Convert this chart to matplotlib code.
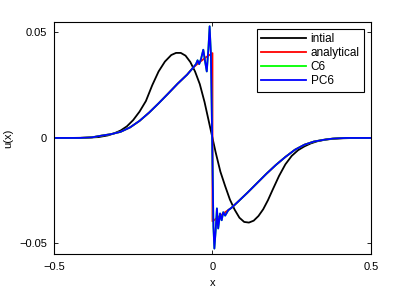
import matplotlib
matplotlib.use("Agg")
import matplotlib.pyplot as plt

plt.rcParams['font.family'] = ['Liberation Sans', 'DejaVu Sans']

# initial profile
x_init = [-0.5, -0.45, -0.40, -0.36, -0.33, -0.31, -0.29, -0.27, -0.25, -0.23,
          -0.21, -0.19, -0.17, -0.15, -0.13, -0.115, -0.10, -0.085, -0.07, -0.055,
          -0.04, -0.025, -0.01, 0.0, 0.01, 0.025, 0.04, 0.055, 0.07, 0.085,
          0.10, 0.115, 0.13, 0.145, 0.16, 0.175, 0.19, 0.21, 0.23, 0.25,
          0.27, 0.29, 0.31, 0.33, 0.36, 0.40, 0.45, 0.5]
u_init = [0.0, 0.0, 0.0001, 0.0004, 0.0012, 0.0022, 0.0035, 0.0055, 0.0085, 0.0125,
          0.0175, 0.0250, 0.0315, 0.0362, 0.0393, 0.0403, 0.0403, 0.0390, 0.0360, 0.0315,
          0.0255, 0.0170, 0.0068, 0.0, -0.0068, -0.0160, -0.0228, -0.0292, -0.0340, -0.0378,
          -0.0398, -0.0401, -0.0392, -0.0370, -0.0338, -0.0295, -0.0245, -0.0180, -0.0125, -0.0085,
          -0.0058, -0.0040, -0.0026, -0.0016, -0.0007, -0.0002, 0.0, 0.0]

# analytical solution (shock at x = 0)
x_exact = [-0.5, -0.42, -0.38, -0.35, -0.32, -0.29, -0.26, -0.23, -0.20, -0.17,
           -0.14, -0.11, -0.08, -0.06, -0.04, -0.02, 0.0, 0.0, 0.02, 0.04,
           0.06, 0.08, 0.11, 0.14, 0.17, 0.20, 0.23, 0.26, 0.29, 0.32,
           0.35, 0.38, 0.42, 0.5]
u_exact = [0.0, 0.0, 0.0003, 0.0011, 0.0018, 0.0029, 0.0050, 0.0081, 0.0120, 0.0164,
           0.0210, 0.0257, 0.0300, 0.0335, 0.0360, 0.0383, 0.0402, -0.0395, -0.0373, -0.0352,
           -0.0331, -0.0303, -0.0260, -0.0215, -0.0170, -0.0128, -0.0090, -0.0056, -0.0032, -0.0017,
           -0.0009, -0.0003, 0.0, 0.0]

# numerical solutions (C6 and PC6 nearly identical)
x_pc6 = [-0.5, -0.42, -0.38, -0.35, -0.32, -0.29, -0.26, -0.23, -0.20, -0.17,
         -0.14, -0.11, -0.08, -0.06, -0.052, -0.047, -0.042, -0.036, -0.029, -0.023,
         -0.018, -0.013, -0.009, -0.005, -0.001, 0.003, 0.006, 0.010, 0.014, 0.018,
         0.024, 0.029, 0.034, 0.040, 0.050, 0.06, 0.08, 0.11, 0.14, 0.17,
         0.20, 0.23, 0.26, 0.29, 0.32, 0.35, 0.38, 0.42, 0.5]
u_pc6 = [0.0, 0.0, 0.0003, 0.0011, 0.0018, 0.0029, 0.0050, 0.0081, 0.0120, 0.0164,
         0.0210, 0.0257, 0.0300, 0.0335, 0.0350, 0.0368, 0.0350, 0.0375, 0.0418, 0.0360,
         0.0315, 0.0420, 0.0529, 0.0400, 0.0, -0.0420, -0.0524, -0.0440, -0.0334, -0.0429,
         -0.0358, -0.0390, -0.0352, -0.0368, -0.0342, -0.0331, -0.0303, -0.0260, -0.0215, -0.0170,
         -0.0128, -0.0090, -0.0056, -0.0032, -0.0017, -0.0009, -0.0003, 0.0, 0.0]
u_c6 = u_pc6

fig = plt.figure(figsize=(4.09, 2.88), dpi=100)
ax = fig.add_axes([0.132, 0.118, 0.775, 0.806])

lw = 1.3
ax.plot(x_init, u_init, color='black', lw=lw, label='intial')
ax.plot(x_exact, u_exact, color='red', lw=lw, label='analytical')
ax.plot(x_pc6, u_c6, color='#00ff00', lw=lw, label='C6')
ax.plot(x_pc6, u_pc6, color='blue', lw=lw, label='PC6')

ax.set_xlim(-0.5, 0.5)
ax.set_ylim(-0.055, 0.055)
ax.set_xticks([-0.5, 0, 0.5])
ax.set_xticklabels(['\u22120.5', '0', '0.5'])
ax.set_yticks([-0.05, 0, 0.05])
ax.set_yticklabels(['\u22120.05', '0', '0.05'])
ax.tick_params(direction='in', top=True, right=True, length=3, width=0.6,
               labelsize=8, pad=5)
ax.tick_params(axis='x', pad=6)
for s in ax.spines.values():
    s.set_linewidth(0.8)

ax.set_xlabel('x', fontsize=8, labelpad=4)
ax.set_ylabel('u(x)', fontsize=8, labelpad=4)

leg = ax.legend(loc='upper right', fontsize=8.5, fancybox=False, framealpha=1,
                edgecolor='black', handlelength=3.8, handletextpad=0.4,
                labelspacing=0.18, borderaxespad=0.6, borderpad=0.35)
leg.get_frame().set_linewidth(0.8)

fig.savefig('out.png', dpi=100)
